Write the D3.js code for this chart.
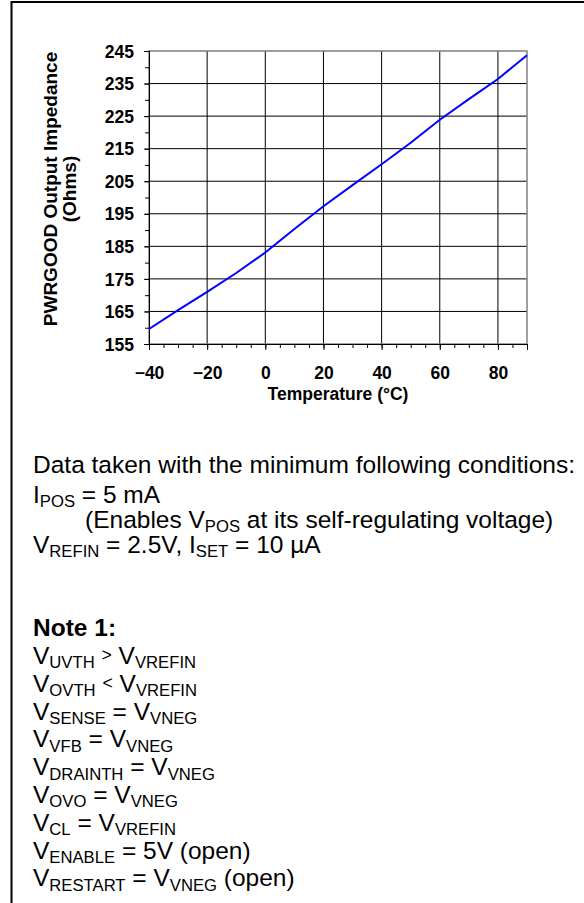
<!DOCTYPE html>
<html><head><meta charset="utf-8">
<script src="https://cdn.jsdelivr.net/npm/d3@7"></script>
<style>
html,body{margin:0;padding:0;background:#fff;}
svg{display:block;}
</style></head><body>
<svg id="c" width="584" height="903"></svg>
<script>
// ---- data ----
const temperatures = [-40, -30, -20, -10, 0, 10, 20, 30, 40, 50, 60, 70, 80, 90];
const impedance    = [159.6, 165.4, 171.0, 176.8, 183.1, 190.3, 197.3, 203.8, 210.2, 216.8, 223.9, 230.2, 236.4, 243.7];
const xMajorTicks = [-40, -20, 0, 20, 40, 60, 80];
const xMinorTicks = [-40, -35, -30, -25, -20, -15, -10, -5, 0, 5, 10, 15, 20, 25, 30, 35, 40, 45, 50, 55, 60, 65, 70, 75, 80, 85, 90];
const yMajorTicks = [155, 165, 175, 185, 195, 205, 215, 225, 235, 245];
const yMinorTicks = [155, 160, 165, 170, 175, 180, 185, 190, 195, 200, 205, 210, 215, 220, 225, 230, 235, 240, 245];
const xTitle = "Temperature (°C)";
const yTitleLines = ["PWRGOOD Output Impedance", "(Ohms)"];
const conditionHeader = "Data taken with the minimum following conditions:";
const conditionLines = [
  "I_{POS} = 5 mA",
  "(Enables V_{POS} at its self-regulating voltage)",
  "V_{REFIN} = 2.5V, I_{SET} = 10 µA"
];
const noteTitle = "Note 1:";
const noteLines = [
  "V_{UVTH} ^{>} V_{VREFIN}",
  "V_{OVTH} ^{<} V_{VREFIN}",
  "V_{SENSE} = V_{VNEG}",
  "V_{VFB} = V_{VNEG}",
  "V_{DRAINTH} = V_{VNEG}",
  "V_{OVO} = V_{VNEG}",
  "V_{CL} = V_{VREFIN}",
  "V_{ENABLE} = 5V (open)",
  "V_{RESTART} = V_{VNEG} (open)"
];

// ---- layout ----
const W = 584, H = 903;
const FONT = "'Liberation Sans', Arial, Helvetica, sans-serif";
const plot = {left: 149, right: 527, top: 51, bottom: 344};
const svg = d3.select("#c");

const x = d3.scaleLinear().domain([-40, 90]).range([plot.left, plot.right]);
const y = d3.scaleLinear().domain([155, 245]).range([plot.bottom, plot.top]);

// outer frame (top and left visible)
svg.append("path")
  .attr("d", `M11.5,${H + 5} V2 H${W + 5}`)
  .attr("fill", "none").attr("stroke", "#000").attr("stroke-width", 2);

// gridlines
const grid = svg.append("g");
grid.selectAll("line.v").data(xMajorTicks.filter(d => d > -40)).join("line")
  .attr("x1", d => x(d)).attr("x2", d => x(d))
  .attr("y1", plot.top).attr("y2", plot.bottom)
  .attr("stroke", "#000").attr("stroke-width", 1);
grid.selectAll("line.h").data(yMajorTicks.filter(d => d > 155 && d < 245)).join("line")
  .attr("x1", plot.left).attr("x2", plot.right)
  .attr("y1", d => y(d)).attr("y2", d => y(d))
  .attr("stroke", "#000").attr("stroke-width", 1);

// plot frame
svg.append("rect")
  .attr("x", plot.left).attr("y", plot.top)
  .attr("width", plot.right - plot.left).attr("height", plot.bottom - plot.top)
  .attr("fill", "none").attr("stroke", "#808080").attr("stroke-width", 1.5);

// axes
const xMinor = svg.append("g").attr("transform", `translate(0,${plot.bottom})`)
  .call(d3.axisBottom(x).tickValues(xMinorTicks).tickSize(4).tickFormat(""));
const xMajor = svg.append("g").attr("transform", `translate(0,${plot.bottom})`)
  .call(d3.axisBottom(x).tickValues(xMajorTicks).tickSize(6).tickPadding(10).tickFormat(d3.format("d")));
const yMinor = svg.append("g").attr("transform", `translate(${plot.left},0)`)
  .call(d3.axisLeft(y).tickValues(yMinorTicks).tickSize(4).tickFormat(""));
const yMajor = svg.append("g").attr("transform", `translate(${plot.left},0)`)
  .call(d3.axisLeft(y).tickValues(yMajorTicks).tickSize(5).tickPadding(10).tickFormat(d3.format("d")));

[xMinor, xMajor, yMinor, yMajor].forEach(g => {
  g.select(".domain").attr("stroke", "#000").attr("stroke-width", 1);
  g.selectAll(".tick line").attr("stroke", "#000").attr("stroke-width", 1);
  g.selectAll("text").attr("font-family", FONT).attr("font-weight", "bold")
    .attr("font-size", 17.5).attr("fill", "#000");
});
xMajor.selectAll(".tick text").attr("y", 379 - plot.bottom).attr("dy", 0);
yMajor.selectAll(".tick text").attr("dy", "0.35em");

// series line
const line = d3.line().x((d, i) => x(temperatures[i])).y(d => y(d));
svg.append("path").datum(impedance)
  .attr("d", line).attr("fill", "none")
  .attr("stroke", "#0000ff").attr("stroke-width", 2);

// axis titles
svg.append("text")
  .attr("x", (plot.left + plot.right) / 2).attr("y", 400)
  .attr("text-anchor", "middle").attr("font-family", FONT)
  .attr("font-weight", "bold").attr("font-size", 17.5).text(xTitle);

const yTitleCenter = 189;
const yTitleBaselines = [57, 76];
yTitleLines.forEach((t, i) => {
  svg.append("text")
    .attr("transform", `translate(${yTitleBaselines[i]},${yTitleCenter}) rotate(-90)`)
    .attr("text-anchor", "middle").attr("font-family", FONT)
    .attr("font-weight", "bold").attr("font-size", 19).text(t);
});

// rich text helper: "_{...}" -> subscript, "^{...}" -> small raised symbol
function richLine(xPos, baseline, str, size, weight) {
  const t = svg.append("text").attr("x", xPos).attr("y", baseline)
    .attr("font-family", FONT).attr("font-size", size)
    .attr("font-weight", weight || "normal").attr("fill", "#000")
    .attr("xml:space", "preserve").style("white-space", "pre");
  const parts = str.split(/([_^]\{[^}]*\})/).filter(s => s.length);
  parts.forEach(p => {
    if (p.startsWith("_{")) {
      t.append("tspan").attr("y", baseline + size * 0.18)
        .attr("font-size", size * 0.68).text(p.slice(2, -1));
    } else if (p.startsWith("^{")) {
      t.append("tspan").attr("y", baseline - size * 0.12)
        .attr("font-size", size * 0.72).text(p.slice(2, -1));
    } else {
      t.append("tspan").attr("y", baseline).text(p);
    }
  });
  return t;
}

const BODY = 24.5;
richLine(33, 473, conditionHeader, BODY);
richLine(33, 503, conditionLines[0], BODY);
richLine(85, 528, conditionLines[1], BODY);
richLine(33, 553, conditionLines[2], BODY);
richLine(33, 636, noteTitle, BODY, "bold");
noteLines.forEach((l, i) => richLine(33, 664 + i * 27.8, l, BODY));
</script>
</body></html>
